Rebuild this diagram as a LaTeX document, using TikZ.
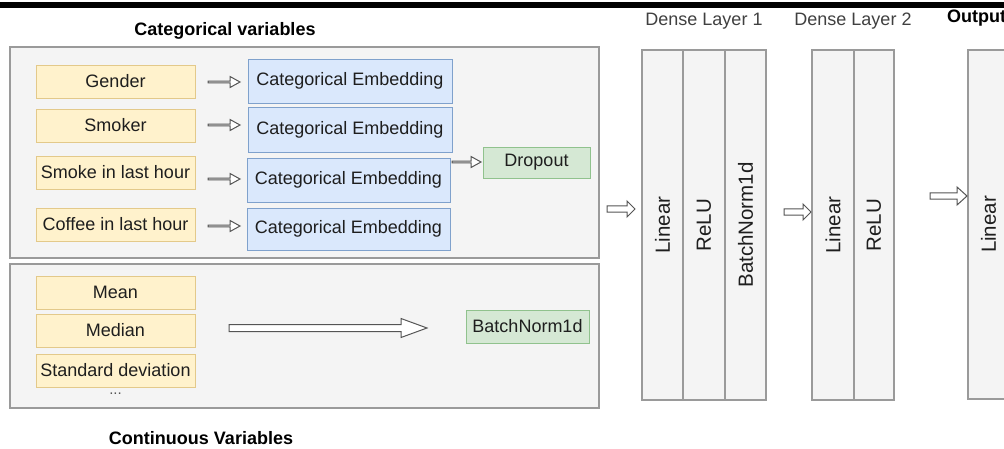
\documentclass[tikz,border=0pt]{standalone}
\usepackage{fontspec}
\setmainfont{Liberation Sans}
\usetikzlibrary{calc}
\definecolor{ybfill}{HTML}{FFF2CC}
\definecolor{ybdraw}{HTML}{E3C98A}
\definecolor{blfill}{HTML}{DAE8FC}
\definecolor{bldraw}{HTML}{7FA1CC}
\definecolor{grfill}{HTML}{D5E8D4}
\definecolor{grdraw}{HTML}{90C28D}
\definecolor{panelfill}{HTML}{F4F4F4}
\definecolor{paneldraw}{HTML}{9A9A9A}
\definecolor{txt}{HTML}{1E1E1E}
\definecolor{lbl}{HTML}{404040}
\definecolor{arr}{HTML}{555555}
\newcommand{\flexarrow}[5]{%
  \draw[flexarr] let \p1=(#1), \p2=(#2) in
    ({\x1},{\y1+#3}) -- ({\x2-#5},{\y1+#3}) -- ({\x2-#5},{\y1+#4}) -- ({\x2},{\y1})
    -- ({\x2-#5},{\y1-#4}) -- ({\x2-#5},{\y1-#3}) -- ({\x1},{\y1-#3}) -- cycle;}
\begin{document}
\begin{tikzpicture}[x=1pt,y=-1pt,
  every node/.style={font=\fontsize{18}{21}\selectfont, text=txt, inner sep=0pt},
  panel/.style={draw=paneldraw, fill=panelfill, line width=1.3pt},
  ybox/.style={draw=ybdraw, fill=ybfill, line width=1pt, minimum width=159pt, minimum height=33pt},
  bbox/.style={draw=bldraw, fill=blfill, line width=1pt, minimum width=204pt},
  gbox/.style={draw=grdraw, fill=grfill, line width=1pt},
  layercol/.style={draw=paneldraw, fill=panelfill, line width=1.3pt, rotate=90,
    minimum width=350pt, font=\fontsize{20.5}{24}\selectfont},
  title/.style={font=\fontsize{18}{21}\selectfont\bfseries, text=black},
  lbltext/.style={font=\fontsize{18}{21}\selectfont, text=lbl},
  flexarr/.style={draw=arr, fill=white, line width=1pt, line join=miter}
]
\useasboundingbox (0,0) rectangle (1004,448);
\clip (0,0) rectangle (1004,448);
\fill[white] (0,0) rectangle (1004,448);
\fill[black] (0,1.5) rectangle (1004,7.5);

% panels
\node[panel, minimum width=589pt, minimum height=211pt] (catpanel) at (304.5,152.5) {};
\node[panel, minimum width=589pt, minimum height=144pt] (conpanel) at (304.5,336) {};
\node[title] (cattitle) at (225,31) {Categorical variables};
\node[title] (contitle) at (201,438) {Continuous Variables};

% categorical inputs
\node[ybox] (gender) at (115.5,81.5) {Gender};
\node[ybox] (smoker) at (115.5,125.5) {Smoker};
\node[ybox] (smoke) at (115.5,172.5) {Smoke in last hour};
\node[ybox] (coffee) at (115.5,224.5) {Coffee in last hour};

% embeddings
\node[bbox, minimum height=44pt] (emb1) at (350,81) {Categorical Embedding};
\node[bbox, minimum height=45pt] (emb2) at (350,129.5) {Categorical Embedding};
\node[bbox, minimum height=44pt, minimum width=203pt] (emb3) at (348.5,180) {Categorical Embedding};
\node[bbox, minimum height=42pt, minimum width=203pt] (emb4) at (348.5,229) {Categorical Embedding};

\node[gbox, minimum width=107pt, minimum height=31pt] (dropout) at (536.5,162.5) {Dropout};

% continuous inputs
\node[ybox] (mean) at (115.5,292.5) {Mean};
\node[ybox] (median) at (115.5,330.5) {Median};
\node[ybox] (std) at (115.5,370.5) {Standard deviation};
\node[font=\fontsize{15}{17}\selectfont, text=arr] (dots) at (115.5,394) {...};
\node[gbox, minimum width=123pt, minimum height=33pt] (bn) at (527.5,326.5) {BatchNorm1d};

% dense layer 1
\node[layercol, minimum height=41pt] (d1lin) at (662.5,225) {Linear};
\node[layercol, minimum height=42pt] (d1relu) at (704,225) {ReLU};
\node[layercol, minimum height=41pt] (d1bn) at (745.5,225) {BatchNorm1d};
% dense layer 2
\node[layercol, minimum height=42pt] (d2lin) at (833,225) {Linear};
\node[layercol, minimum height=40pt] (d2relu) at (874,225) {ReLU};
% output
\node[layercol, minimum height=41pt, minimum width=349pt] (outlin) at (988.5,224.5) {Linear};

\node[lbltext] (d1title) at (704,21) {Dense Layer 1};
\node[lbltext] (d2title) at (853,21) {Dense Layer 2};
\node[title, anchor=west] (outtitle) at (947,18) {Output};

% arrow end points
\coordinate (g1) at (208,82);   \coordinate (g2) at (240,82);
\coordinate (s1) at (208,125);  \coordinate (s2) at (240,125);
\coordinate (k1) at (208,179);  \coordinate (k2) at (240,179);
\coordinate (c1) at (208,226);  \coordinate (c2) at (240,226);
\coordinate (e1) at (452,162);  \coordinate (e2) at (481,162);
\coordinate (m1) at (229,328);  \coordinate (m2) at (427,328);
\coordinate (p1) at (607,209);  \coordinate (p2) at (635,209);
\coordinate (q1) at (784,212);  \coordinate (q2) at (811,212);
\coordinate (r1) at (930,196);  \coordinate (r2) at (967,196);

\flexarrow{g1}{g2}{0.8pt}{5.5pt}{10pt}
\flexarrow{s1}{s2}{0.8pt}{5.5pt}{10pt}
\flexarrow{k1}{k2}{0.8pt}{5.5pt}{10pt}
\flexarrow{c1}{c2}{0.8pt}{5.5pt}{10pt}
\flexarrow{e1}{e2}{0.8pt}{5.5pt}{10pt}
\flexarrow{m1}{m2}{3.5pt}{9.5pt}{26pt}
\flexarrow{p1}{p2}{3.2pt}{8pt}{8pt}
\flexarrow{q1}{q2}{3.2pt}{8pt}{8pt}
\flexarrow{r1}{r2}{3.2pt}{9pt}{10pt}
\end{tikzpicture}
\end{document}
